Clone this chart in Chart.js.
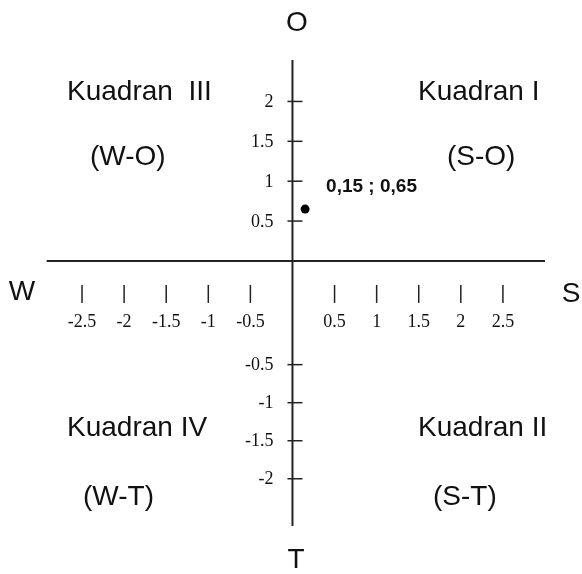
<!DOCTYPE html>
<html>
<head>
<meta charset="utf-8">
<script src="https://cdn.jsdelivr.net/npm/chart.js@4/dist/chart.umd.min.js"></script>
<style>
  html, body { margin: 0; padding: 0; background: #fff; }
  canvas { display: block; }
</style>
</head>
<body>
<canvas id="swot" width="582" height="574"></canvas>
<script>
// data
var xTicks = [-2.5, -2, -1.5, -1, -0.5, 0.5, 1, 1.5, 2, 2.5];
var yTicksUpper = [0.5, 1, 1.5, 2];
var yTicksLower = [-0.5, -1, -1.5, -2];
var pointX = [0.15];
var pointY = [0.65];
var pointText = ['0,15 ; 0,65'];

// quadrant and axis captions (layout only)
var captions = [
    { text: 'Kuadran  III', x: 67, y: 92, align: 'left' },
    { text: '(W-O)', x: 90, y: 157, align: 'left' },
    { text: 'Kuadran I', x: 418, y: 92, align: 'left' },
    { text: '(S-O)', x: 447, y: 157, align: 'left' },
    { text: 'Kuadran IV', x: 67, y: 428, align: 'left' },
    { text: '(W-T)', x: 83, y: 497, align: 'left' },
    { text: 'Kuadran II', x: 418, y: 428, align: 'left' },
    { text: '(S-T)', x: 433, y: 497, align: 'left' },
    { text: 'O', x: 297, y: 23, align: 'center' },
    { text: 'T', x: 296, y: 560, align: 'center' },
    { text: 'W', x: 22, y: 292, align: 'center' },
    { text: 'S', x: 571, y: 294, align: 'center' }
];

var ink = '#222';

var quadrantAxes = {
    id: 'quadrantAxes',
    afterDatasetsDraw: function (chart) {
        var ctx = chart.ctx;
        var sx = chart.scales.x, sy = chart.scales.y, sl = chart.scales.yLow;
        var x0 = sx.getPixelForValue(0);
        var y0 = sy.getPixelForValue(0);
        ctx.save();
        ctx.strokeStyle = ink;
        ctx.fillStyle = '#111';

        // main axes
        ctx.lineWidth = 2;
        ctx.beginPath();
        ctx.moveTo(sx.getPixelForValue(-2.92), y0);
        ctx.lineTo(sx.getPixelForValue(3.0), y0);
        ctx.moveTo(x0, sy.getPixelForValue(2.52));
        ctx.lineTo(x0, sl.getPixelForValue(-2.62));
        ctx.stroke();

        // x ticks, drawn below the axis
        ctx.lineWidth = 1.5;
        ctx.font = '18px "Liberation Serif"';
        ctx.textAlign = 'center';
        ctx.textBaseline = 'middle';
        xTicks.forEach(function (v) {
            var px = sx.getPixelForValue(v);
            ctx.beginPath();
            ctx.moveTo(px, y0 + 24);
            ctx.lineTo(px, y0 + 42);
            ctx.stroke();
            ctx.fillText(String(v), px, y0 + 61);
        });

        // y ticks
        ctx.textAlign = 'right';
        function yTick(scale, v) {
            var py = scale.getPixelForValue(v);
            ctx.beginPath();
            ctx.moveTo(x0 - 5, py);
            ctx.lineTo(x0 + 10, py);
            ctx.stroke();
            ctx.fillText(String(v), x0 - 19, py + 1);
        }
        yTicksUpper.forEach(function (v) { yTick(sy, v); });
        yTicksLower.forEach(function (v) { yTick(sl, v); });

        // point caption
        ctx.font = 'bold 19px "Liberation Sans"';
        ctx.textAlign = 'left';
        pointX.forEach(function (v, i) {
            var px = sx.getPixelForValue(v);
            var py = sy.getPixelForValue(pointY[i]);
            ctx.fillText(pointText[i], px + 21, py - 22);
        });

        // quadrant names
        ctx.font = '28px "Liberation Sans"';
        captions.forEach(function (c) {
            ctx.textAlign = c.align;
            ctx.fillText(c.text, c.x, c.y);
        });
        ctx.restore();
    }
};

new Chart(document.getElementById('swot'), {
    type: 'scatter',
    data: {
        datasets: [{
            data: pointX.map(function (v, i) { return { x: v, y: pointY[i] }; }),
            pointRadius: 4.5,
            pointHoverRadius: 4.5,
            backgroundColor: '#000',
            borderWidth: 0
        }]
    },
    options: {
        responsive: false,
        animation: false,
        layout: { padding: 0 },
        plugins: { legend: { display: false }, tooltip: { enabled: false } },
        scales: {
            x: { type: 'linear', display: false, min: -3.421, max: 3.386 },
            y: { type: 'linear', display: false, min: -3.8704, max: 3.2160 },
            yLow: { type: 'linear', display: false, position: 'left', min: -3.1928, max: 4.2342 }
        }
    },
    plugins: [quadrantAxes]
});
</script>
</body>
</html>
